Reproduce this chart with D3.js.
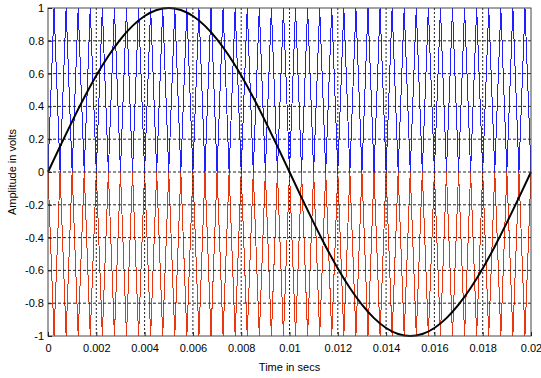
<!DOCTYPE html>
<html>
<head>
<meta charset="utf-8">
<script src="https://cdn.jsdelivr.net/npm/d3@7"></script>
<style>
  body { margin: 0; background: #fff; }
  svg { display: block; font-family: "Liberation Sans", Arial, sans-serif; }
</style>
</head>
<body>
<svg id="chart" width="541" height="378"></svg>
<script>
// sine reference: 50 Hz, sampled every 0.5 ms
const sineStep = 0.0005;
const sineValues = [
  0, 0.156, 0.309, 0.454, 0.588, 0.707, 0.809, 0.891, 0.951, 0.988,
  1, 0.988, 0.951, 0.891, 0.809, 0.707, 0.588, 0.454, 0.309, 0.156,
  0, -0.156, -0.309, -0.454, -0.588, -0.707, -0.809, -0.891, -0.951, -0.988,
  -1, -0.988, -0.951, -0.891, -0.809, -0.707, -0.588, -0.454, -0.309, -0.156, 0
];

// triangular carrier vertices, every 0.25 ms (2 kHz)
const carrierStep = 0.00025;
const carrierLevels = [
  0,1,0,1,0,1,0,1,0,1,0,1,0,1,0,1,0,1,0,1,
  0,1,0,1,0,1,0,1,0,1,0,1,0,1,0,1,0,1,0,1,
  0,1,0,1,0,1,0,1,0,1,0,1,0,1,0,1,0,1,0,1,
  0,1,0,1,0,1,0,1,0,1,0,1,0,1,0,1,0,1,0,1,
  0
];

const xTicks = [0, 0.002, 0.004, 0.006, 0.008, 0.01, 0.012, 0.014, 0.016, 0.018, 0.02];
const yTicks = [-1, -0.8, -0.6, -0.4, -0.2, 0, 0.2, 0.4, 0.6, 0.8, 1];

const margin = { left: 48, right: 10, top: 8, bottom: 42 };
const width = 541, height = 378;

const svg = d3.select("#chart");

const x = d3.scaleLinear().domain([0, 0.02]).range([margin.left, width - margin.right]);
const y = d3.scaleLinear().domain([-1, 1]).range([height - margin.bottom, margin.top]);

const sineData = sineValues.map((v, i) => [i * sineStep, v]);
const carrierData = carrierLevels.map((v, i) => [i * carrierStep, v]);

// positive carrier (blue) and mirrored negative carrier (red), drawn without smoothing
const line = d3.line().x(d => x(d[0])).y(d => y(d[1]));

svg.append("path")
  .datum(carrierData)
  .attr("fill", "none")
  .attr("stroke", "#2020ff")
  .attr("stroke-width", 1)
  .attr("shape-rendering", "crispEdges")
  .attr("d", line);

svg.append("path")
  .datum(carrierData.map(d => [d[0], -d[1]]))
  .attr("fill", "none")
  .attr("stroke", "#e8360f")
  .attr("stroke-width", 1)
  .attr("shape-rendering", "crispEdges")
  .attr("d", line);

// grid
svg.append("g")
  .selectAll("line")
  .data(yTicks.slice(1, -1))
  .join("line")
  .attr("x1", x(0)).attr("x2", x(0.02))
  .attr("y1", d => y(d)).attr("y2", d => y(d))
  .attr("stroke", "#222")
  .attr("stroke-dasharray", "3,2");

svg.append("g")
  .selectAll("line")
  .data(xTicks.slice(1, -1))
  .join("line")
  .attr("x1", d => x(d)).attr("x2", d => x(d))
  .attr("y1", y(1)).attr("y2", y(-1))
  .attr("stroke", "#222")
  .attr("stroke-dasharray", "2,2");

// sine
svg.append("path")
  .datum(sineData)
  .attr("fill", "none")
  .attr("stroke", "#000")
  .attr("stroke-width", 2)
  .attr("d", d3.line().x(d => x(d[0])).y(d => y(d[1])).curve(d3.curveNatural));

// axes box
svg.append("rect")
  .attr("x", x(0)).attr("y", y(1))
  .attr("width", x(0.02) - x(0)).attr("height", y(-1) - y(1))
  .attr("fill", "none")
  .attr("stroke", "#444");

const xAxis = d3.axisBottom(x).tickValues(xTicks).tickSize(-4).tickPadding(8)
  .tickFormat(d => d === 0 ? "0" : d3.format("")(+d.toFixed(3)));
svg.append("g")
  .attr("transform", `translate(0,${y(-1)})`)
  .call(xAxis)
  .call(g => g.select(".domain").remove())
  .call(g => g.selectAll("line").attr("stroke", "#222"))
  .call(g => g.selectAll("text").attr("font-size", 11).attr("fill", "#000").attr("font-family", "Liberation Sans, Arial, sans-serif"));

const yAxis = d3.axisLeft(y).tickValues(yTicks).tickSize(-4).tickPadding(4)
  .tickFormat(d => +d.toFixed(1));
svg.append("g")
  .attr("transform", `translate(${x(0)},0)`)
  .call(yAxis)
  .call(g => g.select(".domain").remove())
  .call(g => g.selectAll("line").attr("stroke", "#222"))
  .call(g => g.selectAll("text").attr("font-size", 11).attr("fill", "#000").attr("font-family", "Liberation Sans, Arial, sans-serif"));

svg.append("text")
  .attr("x", (x(0) + x(0.02)) / 2)
  .attr("y", 371)
  .attr("text-anchor", "middle")
  .attr("font-size", 11)
  .text("Time in secs");

svg.append("text")
  .attr("transform", `translate(16,${y(0)}) rotate(-90)`)
  .attr("text-anchor", "middle")
  .attr("font-size", 11)
  .text("Amplitude in volts");
</script>
</body>
</html>
